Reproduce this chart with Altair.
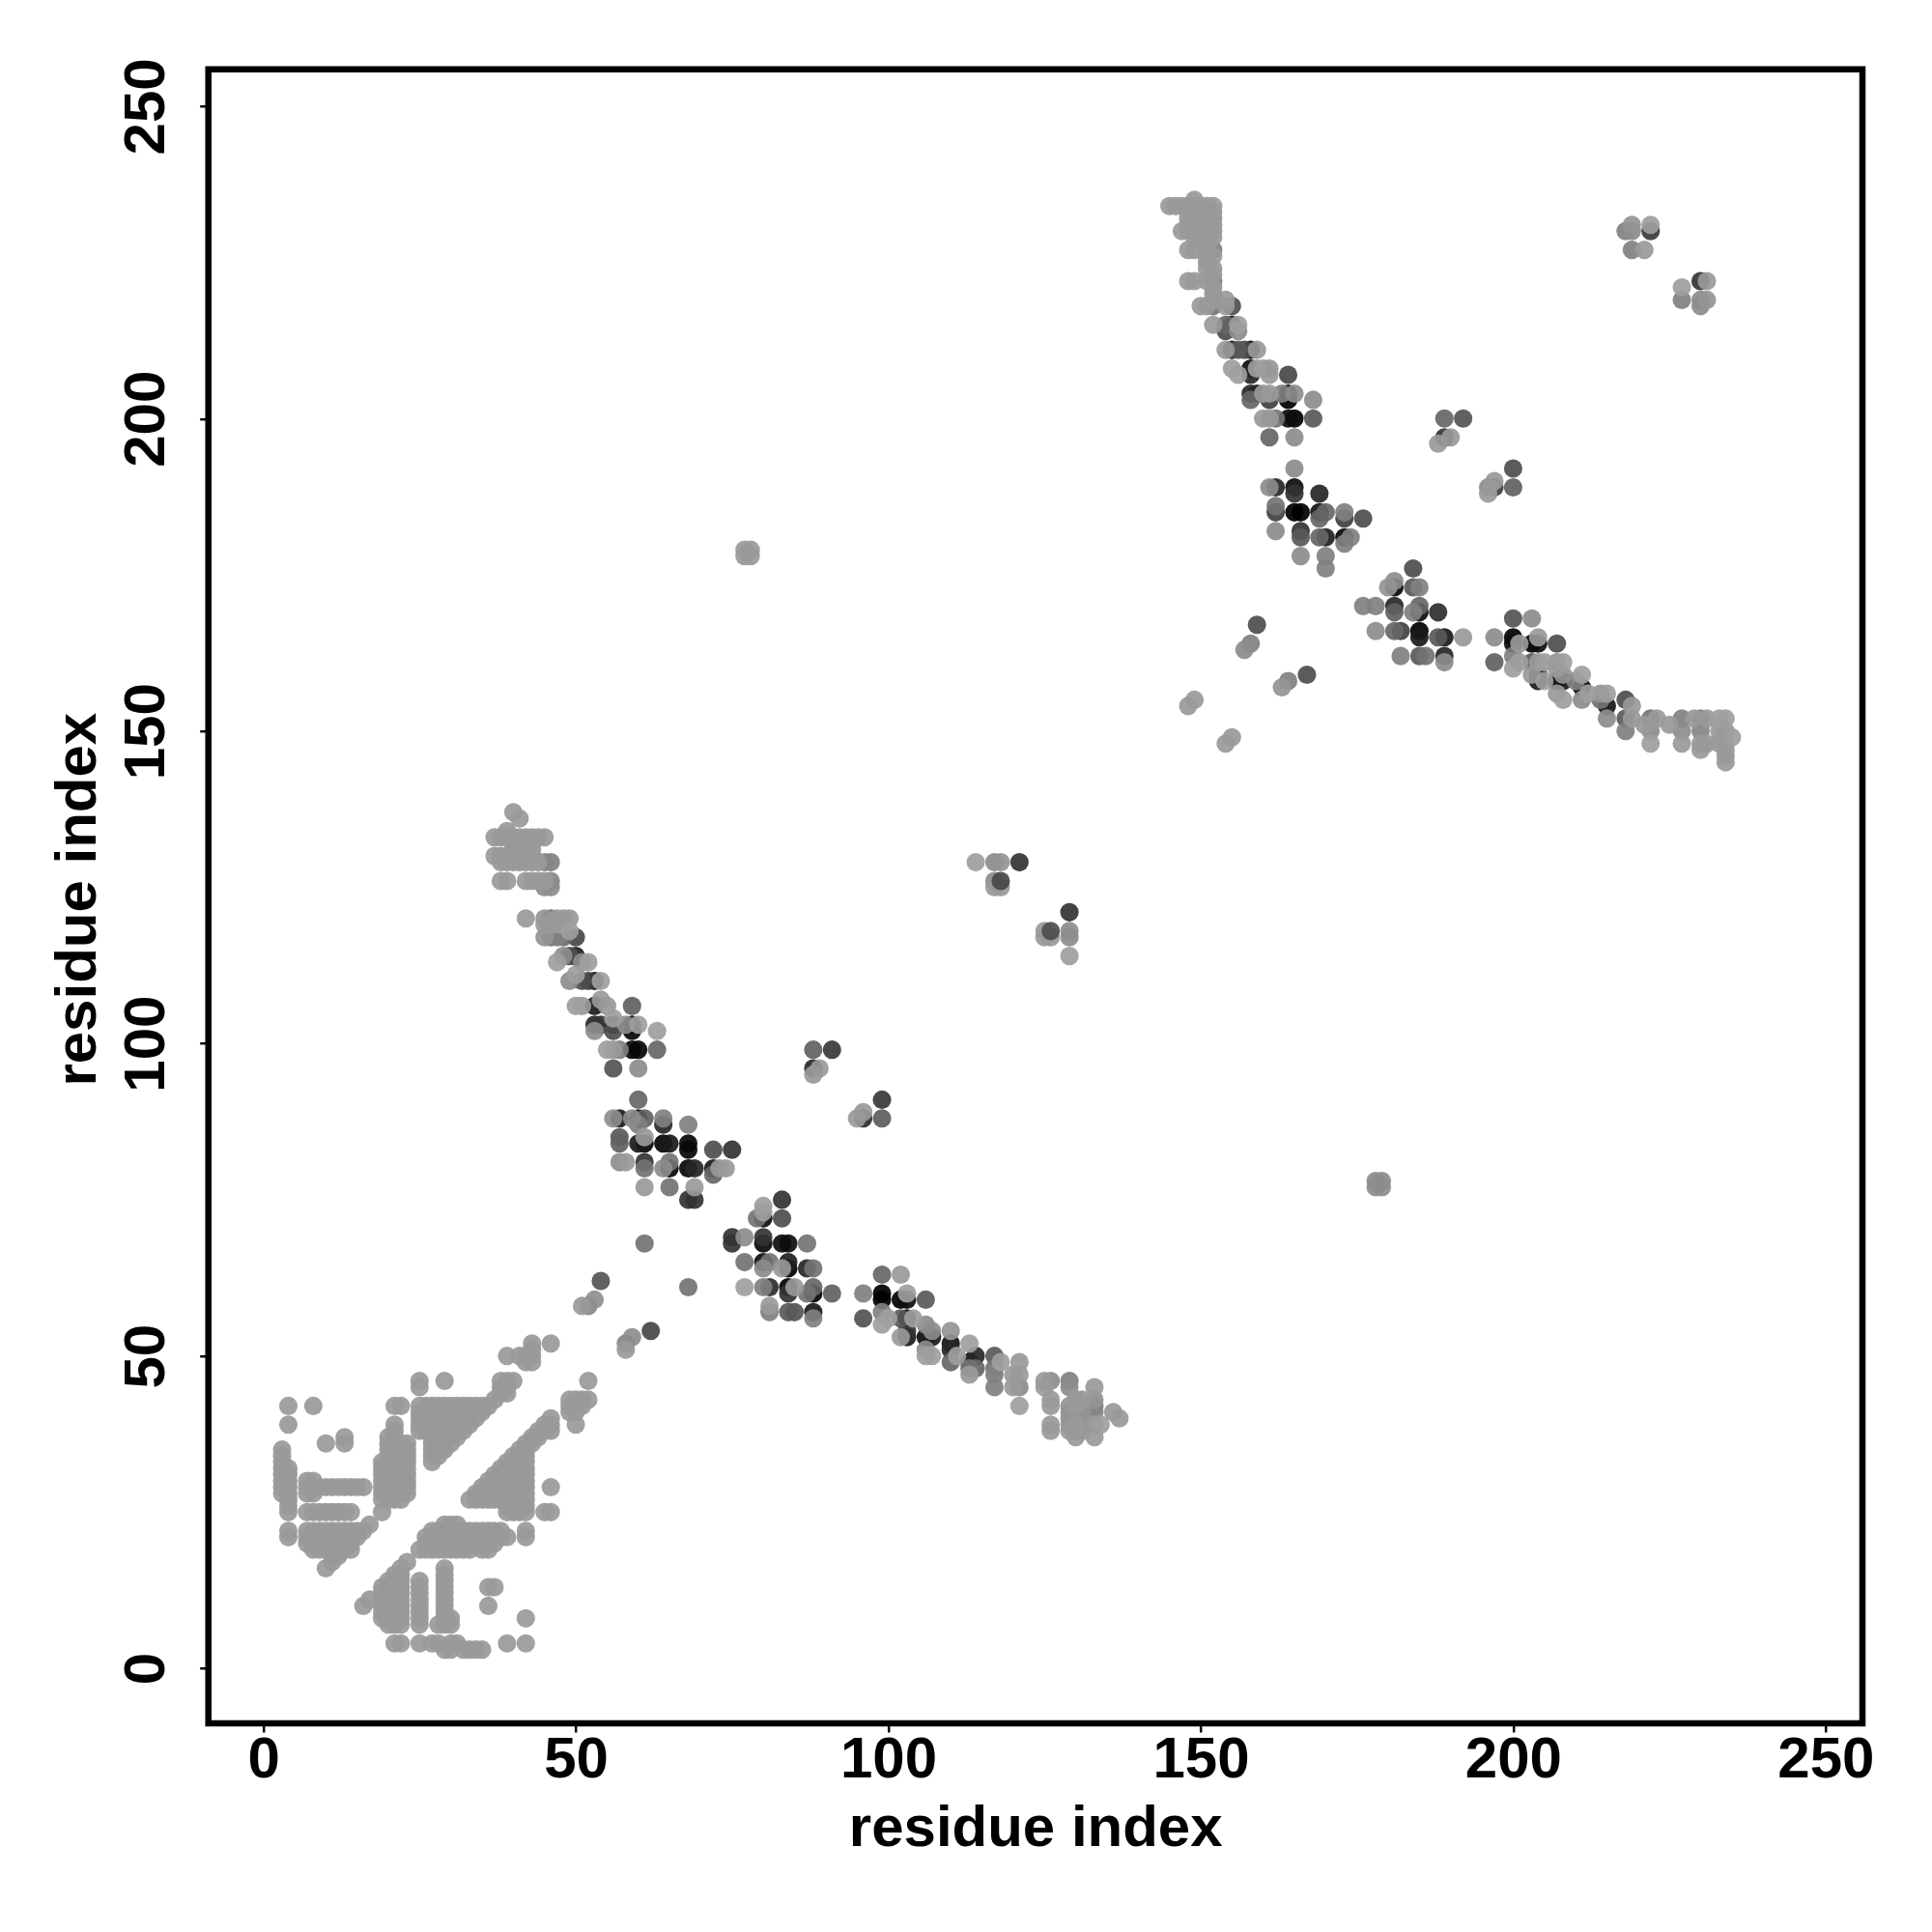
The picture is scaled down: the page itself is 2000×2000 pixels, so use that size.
import altair as alt
import pandas as pd

tick_values = [0, 50, 100, 150, 200, 250]
axis_title = "residue index"

# residue pairs of the light N-terminal block: y -> list of x
block_rows = {
    52: [43, 46], 51: [43], 50: [39, 41, 42, 43], 49: [42, 43],
    46: [25, 29, 38, 39, 40, 52], 45: [25, 38, 39], 44: [38, 39],
    43: [37, 49, 50, 51, 52],
    42: [4, 8, 21, 22, 25, 26, 27, 28, 29, 30, 31, 32, 33, 34, 35, 36, 49, 50, 51],
    41: [25, 26, 27, 28, 29, 30, 31, 32, 33, 34, 35, 49, 50],
    40: [25, 26, 27, 28, 29, 30, 31, 32, 33, 34, 46],
    39: [4, 21, 25, 26, 27, 28, 29, 30, 31, 32, 33, 45, 46, 50],
    38: [21, 25, 26, 27, 28, 29, 30, 31, 32, 44, 45, 46],
    37: [13, 20, 21, 27, 28, 29, 30, 31, 43, 44],
    36: [10, 13, 20, 21, 22, 23, 27, 28, 29, 30, 42, 43],
    35: [3, 20, 21, 22, 23, 27, 28, 29, 41, 42],
    34: [3, 20, 21, 22, 23, 27, 28, 40, 41, 42],
    33: [3, 19, 20, 21, 22, 23, 27, 39, 40, 41, 42],
    32: [3, 4, 19, 20, 21, 22, 23, 38, 39, 40, 41, 42],
    31: [3, 4, 19, 20, 21, 22, 23, 37, 38, 39, 40, 41, 42],
    30: [3, 4, 7, 8, 19, 20, 21, 22, 23, 36, 37, 38, 39, 40, 41, 42],
    29: [3, 4, 7, 8, 9, 10, 11, 12, 13, 14, 15, 16, 19, 20, 21, 22, 23, 35, 36, 37, 38, 39, 40, 41, 42, 46],
    28: [3, 4, 7, 8, 19, 20, 21, 22, 23, 34, 35, 36, 37, 38, 39, 40, 41, 42],
    27: [4, 19, 20, 21, 22, 33, 34, 35, 36, 37, 38, 39, 40, 41, 42],
    26: [4, 39, 40, 41, 42],
    25: [4, 7, 8, 9, 10, 11, 12, 13, 14, 19, 39, 40, 41, 42, 45, 46],
    23: [17, 29, 30, 31],
    22: [4, 7, 8, 9, 10, 11, 12, 13, 14, 15, 16, 27, 28, 29, 30, 31, 32, 33, 34, 35, 36, 37, 38, 42],
    21: [4, 7, 8, 9, 10, 11, 12, 13, 14, 15, 26, 27, 28, 29, 30, 31, 32, 33, 34, 35, 36, 37, 38, 39, 42],
    20: [7, 8, 9, 10, 11, 12, 13, 14, 26, 27, 28, 29, 30, 31, 32, 33, 34, 35, 36, 37],
    19: [8, 9, 10, 11, 12, 13, 14, 25, 26, 27, 28, 29, 30, 31, 32, 33, 35, 36],
    18: [11, 12], 17: [11, 23], 16: [10, 22, 29], 15: [21, 22, 29],
    14: [20, 21, 22, 25, 29], 13: [19, 20, 21, 22, 25, 29, 36, 37],
    12: [19, 20, 21, 22, 25, 29], 11: [17, 19, 20, 21, 22, 25, 29],
    10: [16, 19, 20, 21, 22, 25, 29, 36], 9: [19, 20, 21, 22, 25, 29],
    8: [19, 20, 21, 22, 25, 29, 30, 42], 7: [20, 21, 22, 25, 28, 29, 30],
    4: [21, 22, 25, 27, 28, 30, 31, 39, 42], 3: [29, 30, 32, 33, 34, 35],
}
arm1_top_rows = {
    137: [40], 136: [41], 134: [39], 133: [37, 38, 39, 40, 41, 42, 43, 44, 45],
    132: [40, 41, 42, 43], 131: [40, 41, 42, 43], 130: [37, 38, 39, 40, 41, 42, 43],
    129: [38, 39, 40, 41, 42, 43, 44], 126: [38, 39, 42, 43, 44, 45],
    120: [42, 47, 48, 49], 119: [45, 46, 47, 48],
}
arm3_top_rows = {
    235: [149], 234: [145, 146, 147, 148, 149, 150, 151, 152],
    233: [148, 149, 150, 151, 152], 232: [148, 149, 150, 151, 152],
    231: [148, 149, 150, 151, 152], 230: [147, 148, 149, 150, 151, 152],
    229: [149, 150, 151, 152], 227: [148, 149, 151], 226: [151, 152],
    225: [151], 224: [151, 152], 223: [152], 222: [148, 149, 151], 221: [152],
    220: [152], 219: [152, 154], 218: [150, 151, 154],
}

# (x, y, gray level)
block_links = [
    (54, 62, .33), (51, 58, .6), (52, 58, .52), (53, 59, .56), (62, 54, .28),
    (58, 51, .6), (58, 52, .52), (59, 53, .55), (61, 68, .45), (68, 61, .45),
    (78, 179, .6), (77, 179, .6), (77, 178, .6), (78, 178, .6),
    (178, 78, .55), (179, 78, .55), (178, 77, .55), (179, 77, .55),
]
arm1 = [
    (45, 129, .52), (46, 129, .5), (46, 126, .52), (45, 125, .55), (46, 125, .55),
    (45, 120, .58), (46, 120, .42), (45, 117, .58), (46, 117, .45), (47, 117, .5),
    (48, 117, .42), (49, 118, .62), (50, 117, .28), (47, 113, .62), (48, 114, .55),
    (49, 114, .3), (50, 114, .12), (51, 113, .55), (52, 113, .62),
    (49, 110, .55), (50, 111, .62), (51, 110, .3), (52, 110, .25), (53, 110, .05), (54, 110, .62),
    (50, 106, .62), (51, 106, .6), (53, 106, .1), (54, 107, .6), (55, 106, .6),
    (59, 106, .38), (53, 103, .15), (54, 103, .2), (53, 102, .55), (56, 104, .62),
    (56, 103, .03), (56, 102, .3), (58, 103, .55), (59, 103, .02), (60, 103, .62), (59, 102, .02),
    (63, 102, .62), (55, 99, .62), (56, 99, .6), (57, 99, .5), (59, 99, .02), (60, 99, .02),
    (63, 99, .4), (56, 96, .33), (60, 96, .55),
    (88, 99, .38), (91, 99, .22), (88, 96, .15), (89, 96, .6), (88, 95, .6),
    (60, 91, .4), (56, 88, .55), (57, 88, .1), (59, 88, .55), (60, 88, .05), (61, 88, .38),
    (64, 88, .5), (60, 87, .5), (64, 87, .15), (68, 87, .5),
    (99, 91, .22), (99, 88, .36), (96, 89, .6), (96, 88, .18), (95, 88, .6),
    (57, 85, .35), (57, 84, .38), (60, 84, .1), (61, 84, .02), (61, 85, .6),
    (64, 84, .02), (65, 84, .1), (68, 84, .02), (68, 83, .03), (72, 83, .3), (75, 83, .2),
    (57, 81, .55), (58, 81, .6), (61, 81, .2), (61, 80, .45), (64, 80, .55), (65, 81, .45),
    (65, 80, .02), (68, 80, .02), (69, 80, .15), (72, 80, .1), (72, 79, .4), (73, 80, .6), (74, 80, .6),
    (61, 77, .6), (65, 77, .45), (69, 77, .6), (68, 75, .2), (69, 75, .2),
]
arm2 = [
    (83, 75, .2), (80, 74, .62), (80, 73, .62), (79, 72, .45), (80, 72, .05), (83, 72, .3),
    (75, 69, .2), (75, 68, .2), (77, 69, .55), (80, 69, .2), (80, 68, .03), (83, 68, .05),
    (84, 68, .05), (87, 68, .45), (77, 65, .45), (80, 65, .05), (80, 64, .55), (81, 65, .45),
    (83, 64, .6), (84, 65, .12), (84, 64, .0), (87, 64, .15), (88, 64, .45),
    (77, 61, .62), (80, 61, .5), (81, 61, .17), (84, 61, .0), (84, 60, .2), (85, 61, .6),
    (87, 60, .45), (88, 61, .4), (88, 60, .0), (91, 60, .38), (81, 58, .6), (81, 57, .5),
    (84, 57, .35), (85, 57, .33), (88, 57, .1), (88, 56, .5),
    (96, 60, .5), (99, 63, .4), (102, 63, .6), (99, 60, .0), (99, 59, .0), (102, 59, .0),
    (103, 60, .62), (103, 59, .05), (106, 59, .35), (96, 56, .32), (99, 57, .5), (99, 55, .62),
    (100, 56, .62), (102, 56, .35), (103, 56, .02), (104, 56, .62), (103, 54, .2), (103, 53, .1),
    (102, 53, .6), (106, 55, .55), (107, 54, .55), (106, 53, .05), (107, 53, .1), (106, 50, .62),
    (107, 50, .62), (106, 51, .55), (110, 54, .58), (110, 52, .08), (110, 51, .15), (110, 49, .4),
    (111, 50, .62), (113, 52, .62), (113, 49, .1), (113, 48, .45), (113, 47, .6), (114, 50, .15),
    (114, 48, .4), (117, 50, .35), (117, 48, .45), (117, 47, .5), (117, 45, .5), (118, 49, .62),
    (121, 49, .6), (121, 47, .6), (120, 47, .6), (121, 45, .55), (120, 45, .6), (121, 42, .62),
    (125, 46, .6), (126, 46, .55), (125, 45, .6), (126, 43, .6), (126, 42, .6), (126, 39, .6), (126, 38, .6),
    (129, 46, .5), (129, 45, .55), (129, 42, .58), (129, 41, .58), (129, 40, .58), (129, 39, .58), (129, 38, .6),
    (130, 43, .6), (130, 42, .6), (130, 41, .58), (130, 40, .58), (130, 39, .6), (130, 38, .6), (130, 37, .6),
    (131, 43, .6), (131, 42, .58), (131, 41, .58), (131, 40, .58), (131, 39, .58), (131, 38, .58),
    (133, 45, .6), (133, 43, .58), (133, 42, .5), (133, 41, .52), (133, 39, .6), (133, 37, .6),
    (134, 39, .62), (136, 41, .6), (137, 40, .6),
]
bridges = [
    (114, 129, .62), (117, 129, .55), (118, 129, .58), (121, 129, .2), (117, 125, .6),
    (118, 125, .6), (117, 126, .55), (125, 117, .6), (126, 117, .6), (125, 118, .6),
    (129, 121, .2), (129, 118, .55), (129, 117, .55), (129, 114, .62),
    (219, 231, .58), (218, 230, .5), (219, 230, .55), (222, 231, .62), (222, 230, .22),
    (219, 227, .5), (221, 227, .6), (227, 221, .62), (227, 219, .5), (230, 222, .2),
    (231, 222, .6), (230, 219, .55), (231, 219, .58), (230, 218, .55),
    (148, 154, .6), (149, 155, .6), (154, 148, .6), (155, 149, .6),
    (167, 159, .3), (164, 158, .5), (163, 157, .58), (159, 167, .3), (158, 164, .5), (157, 163, .55),
]
arm3 = [
    (152, 227, .5), (152, 222, .45), (152, 218, .45), (155, 218, .3), (154, 215, .4),
    (152, 215, .6), (155, 215, .1), (156, 215, .62), (154, 214, .3), (156, 214, .55),
    (154, 211, .6), (155, 211, .1), (156, 211, .35), (157, 211, .3), (158, 211, .03), (159, 211, .6),
    (155, 208, .62), (156, 207, .62), (158, 208, .05), (158, 207, .15), (159, 208, .62),
    (160, 208, .6), (161, 208, .6), (161, 207, .6), (164, 207, .28),
    (158, 204, .15), (159, 204, .1), (160, 204, .6), (161, 204, .6), (163, 204, .5),
    (164, 204, .02), (165, 204, .55), (158, 203, .4), (161, 203, .25), (164, 203, .0), (168, 203, .55),
    (160, 200, .6), (161, 200, .6), (162, 200, .45), (164, 200, .05), (165, 200, .0), (168, 200, .35),
    (161, 197, .4), (165, 197, .55), (189, 200, .4), (192, 200, .33), (189, 197, .2),
    (190, 197, .6), (188, 196, .6), (200, 192, .3), (200, 189, .38), (197, 190, .6),
    (197, 189, .25), (196, 189, .55), (196, 188, .6), (165, 192, .55),
    (161, 189, .55), (162, 189, .15), (165, 189, .05), (165, 188, .2), (169, 188, .15),
    (162, 186, .45), (162, 185, .25), (165, 185, .0), (166, 185, .0), (169, 185, .05), (170, 185, .4),
    (169, 184, .4), (173, 185, .5), (173, 184, .25), (176, 184, .3), (162, 182, .55), (166, 182, .2),
    (166, 181, .35), (169, 181, .4), (170, 181, .12), (173, 181, .02), (174, 181, .5), (173, 180, .5),
    (166, 178, .55), (170, 178, .5), (170, 176, .5),
]
arm4 = [
    (184, 176, .3), (181, 174, .55), (181, 173, .03), (180, 173, .58), (184, 173, .35), (185, 173, .5),
    (176, 170, .5), (178, 170, .5), (181, 170, .15), (181, 169, .38), (185, 170, .4), (184, 169, .5),
    (185, 169, .05), (188, 169, .18), (178, 166, .55), (181, 166, .4), (182, 166, .25), (185, 166, .0),
    (185, 165, .1), (188, 165, .35), (189, 165, .1), (192, 165, .6), (182, 162, .5), (185, 162, .35),
    (186, 162, .45), (189, 162, .15), (189, 161, .55),
    (197, 165, .55), (200, 168, .33), (203, 168, .55), (200, 165, .0), (200, 164, .05), (201, 164, .6),
    (203, 164, .0), (204, 165, .6), (204, 164, .05), (207, 164, .3), (197, 161, .38), (200, 162, .5),
    (201, 161, .62), (200, 160, .62), (203, 161, .35), (204, 161, .6), (205, 161, .62), (203, 159, .6),
    (204, 159, .1), (204, 158, .1), (205, 158, .62), (207, 161, .58), (208, 161, .62), (207, 160, .6),
    (208, 159, .58), (207, 158, .05), (208, 158, .1), (207, 156, .6), (208, 155, .62), (210, 158, .5),
    (211, 159, .62), (211, 157, .05), (211, 155, .55), (212, 156, .62), (214, 156, .58), (215, 156, .62),
    (215, 154, .08), (214, 155, .45), (215, 152, .55), (218, 155, .3), (219, 154, .6), (218, 152, .35),
    (218, 150, .5), (219, 152, .6), (222, 152, .45), (221, 151, .6), (223, 152, .6), (222, 150, .55),
    (222, 148, .62), (225, 151, .6), (227, 152, .5), (227, 150, .55), (227, 148, .6), (229, 152, .6),
    (230, 152, .5), (231, 152, .6), (230, 150, .52), (230, 148, .6), (230, 147, .6), (231, 148, .6),
    (233, 152, .62), (234, 152, .62), (233, 150, .6), (234, 150, .6), (233, 148, .6), (234, 148, .6),
    (234, 147, .6), (234, 146, .6), (234, 145, .6), (235, 149, .62),
]
# darker contacts that lie over their lighter neighbours
on_top = [(118, 126, .28), (126, 118, .3)]
row_gray = 0.6

rows = []
for table in (block_rows, arm1_top_rows, arm3_top_rows):
    for y, xs in table.items():
        rows += [(x, y, row_gray) for x in xs]
for table in (block_links, arm1, arm2, bridges, arm3, arm4):
    rows += table
rows = sorted(rows, key=lambda r: r[2]) + on_top
df = pd.DataFrame(rows, columns=["x", "y", "g"])
df["n"] = range(len(df))

FONT = "Liberation Sans"
chart = (
    alt.Chart(df)
    .mark_circle(size=365, opacity=0.92)
    .encode(
        x=alt.X(
            "x:Q",
            scale=alt.Scale(domain=[-8.8, 255.9], nice=False, zero=False),
            axis=alt.Axis(
                values=tick_values, format="d", grid=False, domain=False,
                title=axis_title, titleFont=FONT, titleFontSize=60, titleFontWeight="bold",
                titleColor="black", titleBaseline="alphabetic", titleY=126, titleX=856,
                labelFont=FONT, labelFontSize=60, labelFontWeight="bold", labelColor="black",
                labelBaseline="alphabetic", labelPadding=46, labelOverlap=False, labelFlush=False,
                tickColor="black", tickSize=9, tickWidth=2.5,
            ),
        ),
        y=alt.Y(
            "y:Q",
            scale=alt.Scale(domain=[-8.8, 255.9], nice=False, zero=False),
            axis=alt.Axis(
                values=tick_values, format="d", grid=False, domain=False,
                title=axis_title, titleFont=FONT, titleFontSize=60, titleFontWeight="bold",
                titleColor="black", titleBaseline="alphabetic", titleX=-117, titleY=859,
                labelFont=FONT, labelFontSize=60, labelFontWeight="bold", labelColor="black",
                labelAngle=270, labelAlign="center", labelBaseline="alphabetic",
                labelPadding=37, labelOverlap=False, labelFlush=False,
                tickColor="black", tickSize=9, tickWidth=2.5,
            ),
        ),
        color=alt.Color(
            "g:Q", legend=None,
            scale=alt.Scale(domain=[0, 1], range=["#000000", "#ffffff"], interpolate="rgb"),
        ),
        order=alt.Order("n:Q"),
    )
    .properties(
        width=1712.3,
        height=1712.3,
        autosize=alt.AutoSizeParams(type="none"),
        padding={"left": 207.7, "top": 63.7, "right": 40, "bottom": 170},
    )
    .configure_view(stroke="black", strokeWidth=6.5)
)

chart.save("out.html", embed_options={"renderer": "svg", "actions": False})
